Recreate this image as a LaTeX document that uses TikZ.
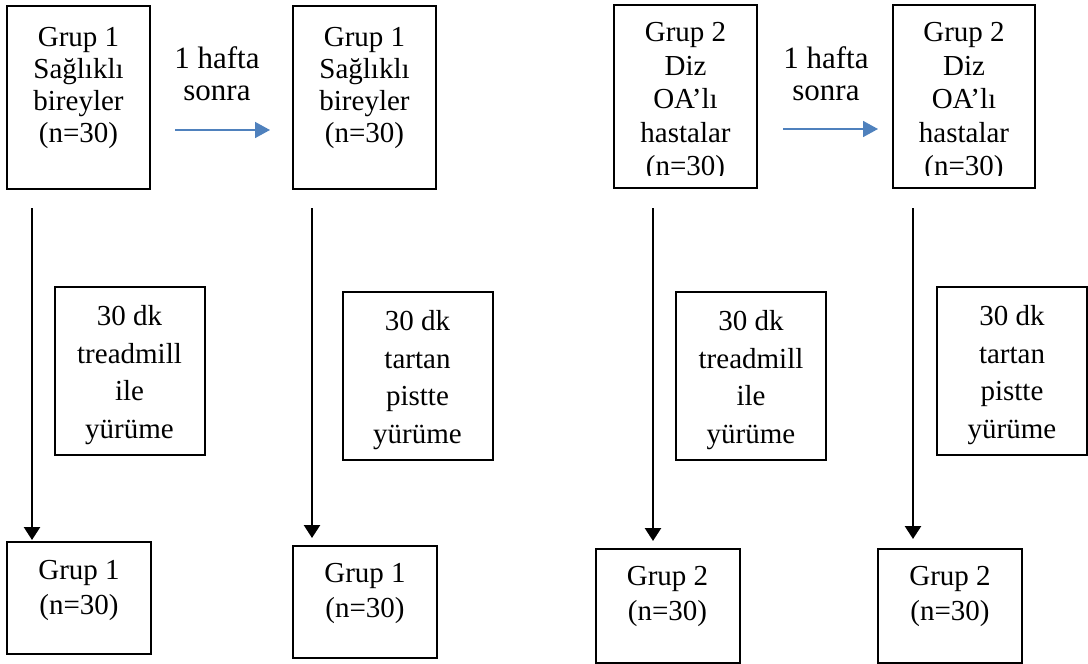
\documentclass[tikz,border=0pt]{standalone}
\usepackage{fontspec}
\setmainfont{Liberation Serif}
\usetikzlibrary{positioning, calc}
\usetikzlibrary{arrows.meta}
\definecolor{okmavi}{HTML}{4F81BD}

\begin{document}
\begin{tikzpicture}[x=0.5pt,y=-0.5pt,draw=black!100]
 	\tikzstyle{kutu}=[rectangle,draw=black!100,line width=1pt,inner sep=0pt]
 	\tikzstyle{ust}=[kutu,minimum width=71.5pt,minimum height=91.5pt]
 	\tikzstyle{orta}=[kutu,minimum width=75pt,minimum height=84pt]
 	\tikzstyle{alt}=[kutu,minimum width=72pt,minimum height=56pt]
 	\tikzstyle{yazi}=[anchor=north,align=center,inner sep=0pt,font=\fontsize{14.5}{16}\selectfont]
 	\tikzstyle{yazi1}=[yazi,font=\fontsize{14.5}{16.75}\selectfont]
 	\tikzstyle{yazi2}=[yazi,font=\fontsize{14.5}{18.85}\selectfont]
 	\tikzstyle{yazi3}=[yazi,font=\fontsize{14.5}{17.5}\selectfont]
 	\tikzstyle{hafta}=[yazi,font=\fontsize{15.5}{16.25}\selectfont]
 	\tikzstyle{ok}=[line width=1.3pt,-{Triangle[length=6.5pt,width=8pt]}]
 	\tikzstyle{mavi}=[draw=okmavi,line width=0.8pt,-{Triangle[length=7.5pt,width=8pt]},okmavi]
 	\useasboundingbox (0,0) rectangle (1088,664);

 	% top row
 	\node[ust] 	(t1)	at (78.5,97.5)	{};
 	\node[ust] 	(t2)	at (364.5,97.5)	{};
 	\node[ust] 	(t3)	at (685.5,96.5)	{};
 	\node[ust,minimum width=71pt] 	(t4)	at (964,96.5)	{};
 	\node[yazi] 	(y1)	at (78.5,27)	{Grup 1\\Sağlıklı\\bireyler\\(n=30)};
 	\node[yazi] 	(y2)	at (364.5,27)	{Grup 1\\Sağlıklı\\bireyler\\(n=30)};
 	\begin{scope}
 	\clip (600,0) rectangle (1050,175);
 	\node[yazi1] 	(y3)	at (685.5,22)	{Grup 2\\Diz\\OA’lı\\hastalar\\(n=30)};
 	\node[yazi1] 	(y4)	at (964,22)	{Grup 2\\Diz\\OA’lı\\hastalar\\(n=30)};
 	\end{scope}

 	% 1 week later
 	\node[hafta] 	(h1)	at (217,46)	{1 hafta\\sonra};
 	\node[hafta] 	(h2)	at (826,46)	{1 hafta\\sonra};
 	\coordinate (a1) at (175,130);
 	\coordinate (a2) at (270,130);
 	\coordinate (a3) at (783,129);
 	\coordinate (a4) at (878,129);
 	\draw[mavi] (a1) -- (a2);
 	\draw[mavi] (a3) -- (a4);

 	% walking
 	\node[orta] 	(m1)	at (129.5,371)	{};
 	\node[orta] 	(m2)	at (417.5,375.5)	{};
 	\node[orta] 	(m3)	at (751,375.5)	{};
 	\node[orta] 	(m4)	at (1012,371)	{};
 	\node[yazi2] 	(z1)	at (129.5,305)	{30 dk\\treadmill\\ile\\yürüme};
 	\node[yazi2] 	(z2)	at (417.5,310)	{30 dk\\tartan\\pistte\\yürüme};
 	\node[yazi2] 	(z3)	at (751,310)	{30 dk\\treadmill\\ile\\yürüme};
 	\node[yazi2] 	(z4)	at (1012,305)	{30 dk\\tartan\\pistte\\yürüme};

 	% bottom row
 	\node[alt] 	(b1)	at (79,598)	{};
 	\node[alt] 	(b2)	at (365,601.5)	{};
 	\node[alt,minimum height=57pt] 	(b3)	at (667.5,606)	{};
 	\node[alt,minimum height=57pt] 	(b4)	at (950,606)	{};
 	\node[yazi3] 	(x1)	at (79,560)	{Grup 1\\(n=30)};
 	\node[yazi3] 	(x2)	at (365,563)	{Grup 1\\(n=30)};
 	\node[yazi3] 	(x3)	at (667.5,566)	{Grup 2\\(n=30)};
 	\node[yazi3] 	(x4)	at (950,566)	{Grup 2\\(n=30)};

 	\coordinate (s1) at (32,208);
 	\coordinate (e1) at (32,540);
 	\coordinate (s2) at (312,208);
 	\coordinate (e2) at (312,538);
 	\coordinate (s3) at (653,208);
 	\coordinate (e3) at (653,541);
 	\coordinate (s4) at (913,208);
 	\coordinate (e4) at (913,539);
 	\draw[ok] (s1) -- (e1);
 	\draw[ok] (s2) -- (e2);
 	\draw[ok] (s3) -- (e3);
 	\draw[ok] (s4) -- (e4);
\end{tikzpicture}
\end{document}
